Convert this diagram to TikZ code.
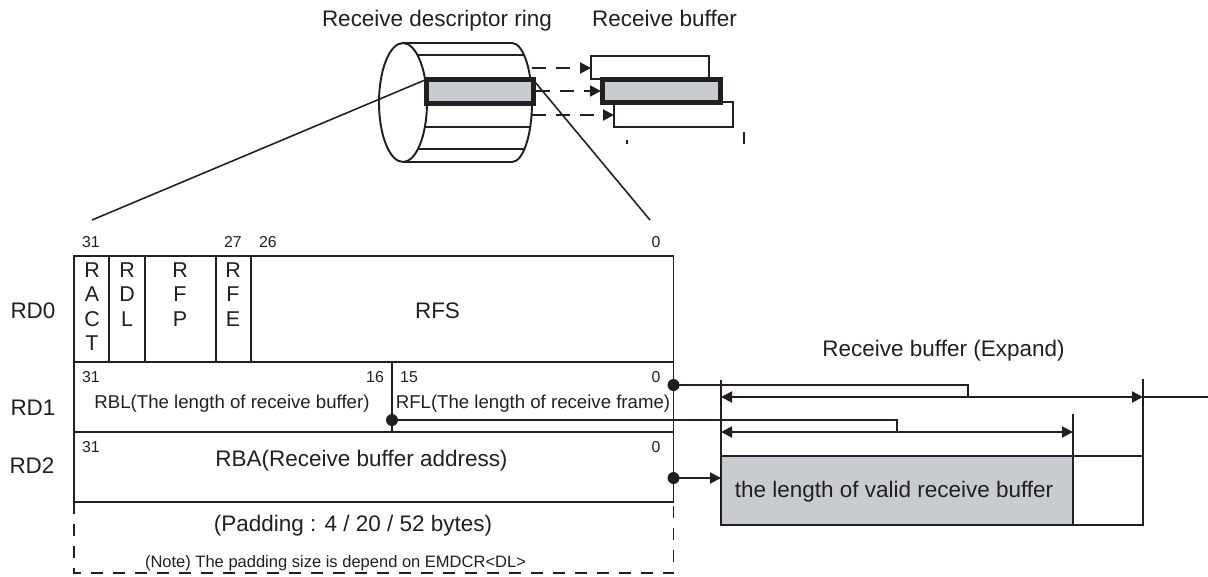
\documentclass[tikz,border=0pt]{standalone}
\usepackage{fontspec}
\setmainfont{Liberation Sans}
\usetikzlibrary{arrows.meta}
\definecolor{ink}{RGB}{35,31,32}
\definecolor{bufgray}{RGB}{200,204,208}

\begin{document}
\begin{tikzpicture}[
    x=0.02cm, y=-0.02cm, line width=1.1pt, color=ink,
    label/.style={font=\fontsize{12.8}{15}\selectfont, inner sep=0pt, anchor=base},
    field/.style={font=\fontsize{12.2}{13.8}\selectfont, align=center, inner sep=0pt, anchor=north},
    desc/.style={font=\fontsize{10.6}{12.5}\selectfont, inner sep=0pt, anchor=base},
    bitno/.style={font=\fontsize{9}{10}\selectfont, inner sep=0pt, anchor=base},
    note/.style={font=\fontsize{9.4}{11}\selectfont, inner sep=0pt, anchor=base},
    heavy/.style={line width=2.8pt, fill=bufgray},
    thin/.style={line width=0.9pt},
    ptr/.style={draw, -{Triangle[length=0.22cm, width=0.22cm]}},
    dashptr/.style={ptr, dash pattern=on 0.28cm off 0.2cm},
    twoway/.style={draw, {Triangle[length=0.22cm, width=0.22cm]}-{Triangle[length=0.22cm, width=0.22cm]}},
    bullet/.style={circle, fill, inner sep=0pt, minimum size=0.24cm}
]
    \useasboundingbox (0,0) rectangle (1208,576);

    % titles
    \node [label] (ringtitle) at (437,26) {Receive descriptor ring};
    \node [label] (buftitle) at (664.5,26) {Receive buffer};

    % descriptor ring
    \draw (403,102.5) ellipse [x radius=0.48cm, y radius=1.19cm];
    \draw (403,43) -- (512,43) arc [start angle=90, end angle=-90, x radius=0.4cm, y radius=1.19cm] -- (403,162);
    \draw [thin] (417.5,55) -- (524,55);
    \draw [thin] (425,127) -- (530,127);
    \draw [thin] (418,149) -- (524.5,149);
    \draw [heavy] (426.5,79.5) rectangle (533.5,103.5);

    % receive buffers
    \draw (591,56) rectangle (709,79);
    \draw (614,102) rectangle (733,127);
    \draw [heavy] (602.5,79.5) rectangle (720.5,102.5);
    \draw [thin] (627,140) -- (627,144);
    \draw [thin] (744,132) -- (744,144);

    \coordinate (ring1) at (532,68);
    \coordinate (ring2) at (536,91);
    \coordinate (ring3) at (532,115);
    \coordinate (buf1) at (591,68);
    \coordinate (buf2) at (601,91);
    \coordinate (buf3) at (614,115);
    \draw [dashptr] (ring1) -- (buf1);
    \draw [dashptr] (ring2) -- (buf2);
    \draw [dashptr] (ring3) -- (buf3);

    % zoom lines
    \coordinate (zoomL) at (425,80);
    \coordinate (zoomR) at (535,82);
    \coordinate (tabL) at (92,220);
    \coordinate (tabR) at (650,220);
    \draw [thin] (zoomL) -- (tabL);
    \draw [thin] (zoomR) -- (tabR);

    % descriptor words
    \draw (74,256) rectangle (673.5,362);
    \draw (74,362) rectangle (673.5,432);
    \draw (74,432) rectangle (673.5,502);
    \draw (109,256) -- (109,362);
    \draw (145,256) -- (145,362);
    \draw (216,256) -- (216,362);
    \draw (251,256) -- (251,362);
    \draw (392,362) -- (392,432);
    \draw [dash pattern=on 0.24cm off 0.2cm] (74,502) -- (74,573) -- (673.5,573) -- (673.5,502);

    \node [label] (rd0) at (33,318) {RD0};
    \node [label] (rd1) at (33,415) {RD1};
    \node [label] (rd2) at (32,473) {RD2};

    \node [bitno] (b0a) at (91,247) {31};
    \node [bitno] (b0b) at (233,247) {27};
    \node [bitno] (b0c) at (268,247) {26};
    \node [bitno] (b0d) at (656,247) {0};
    \node [bitno] (b1a) at (91,382) {31};
    \node [bitno] (b1b) at (375,382) {16};
    \node [bitno] (b1c) at (409,382) {15};
    \node [bitno] (b1d) at (656,382) {0};
    \node [bitno] (b2a) at (91,452) {31};
    \node [bitno] (b2b) at (656,452) {0};

    \node [field] (ract) at (92,262) {R\\A\\C\\T};
    \node [field] (rdl) at (127,262) {R\\D\\L};
    \node [field] (rfp) at (180,262) {R\\F\\P};
    \node [field] (rfe) at (233,262) {R\\F\\E};
    \node [label] (rfs) at (437.5,318) {RFS};

    \node [desc] (rbl) at (232,408) {RBL(The length of receive buffer)};
    \node [desc] (rfl) at (533,408) {RFL(The length of receive frame)};
    \node [label] (rba) at (361.5,466) {RBA(Receive buffer address)};
    \node [label] (pad) at (353,531) {(Padding : 4 / 20 / 52 bytes)};
    \node [note] (padnote) at (335.5,567) {(Note) The padding size is depend on EMDCR<DL>};

    % expanded receive buffer
    \node [label] (exptitle) at (943.5,356) {Receive buffer (Expand)};
    \draw [fill=bufgray] (721,456) rectangle (1073,525);
    \draw (1073,456) rectangle (1143,525);
    \node [label] (valid) at (894,497) {the length of valid receive buffer};
    \draw [thin] (721,380) -- (721,456);
    \draw [thin] (1143,379) -- (1143,456);
    \draw [thin] (1073,414) -- (1073,456);

    \coordinate (bufL1) at (721,397);
    \coordinate (bufR1) at (1143,397);
    \coordinate (bufEnd) at (1208,397);
    \coordinate (bufL2) at (721,432);
    \coordinate (bufR2) at (1073,432);
    \draw [twoway] (bufL1) -- (bufR1);
    \draw [thin] (bufR1) -- (bufEnd);
    \draw [twoway] (bufL2) -- (bufR2);

    % pointers
    \node [bullet] (rflptr) at (673.5,385) {};
    \node [bullet] (rblptr) at (392,420) {};
    \node [bullet] (rbaptr) at (673.5,478) {};
    \coordinate (join1) at (968,397);
    \coordinate (join2) at (897,432);
    \coordinate (bufstart) at (721,478);
    \draw [thin] (rflptr.center) -| (join1);
    \draw [thin] (rblptr.center) -| (join2);
    \draw [ptr] (rbaptr.center) -- (bufstart);
\end{tikzpicture}
\end{document}
